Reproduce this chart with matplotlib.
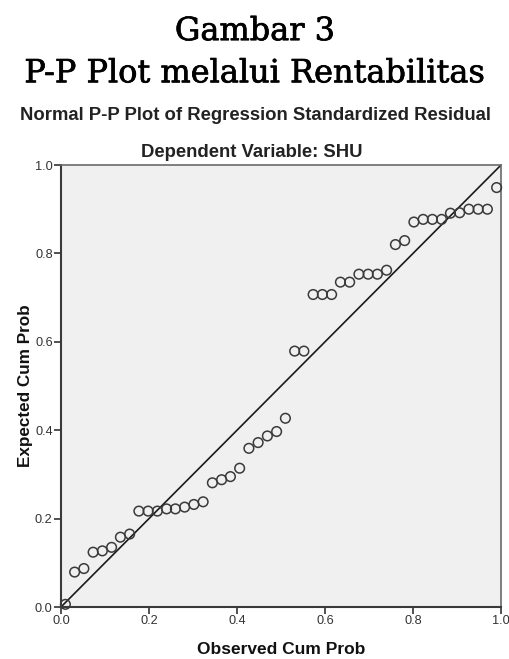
import matplotlib.pyplot as plt
import matplotlib.patheffects as pe

# Data
observed = [0.010, 0.031, 0.052, 0.073, 0.094, 0.115, 0.135, 0.156,
            0.177, 0.198, 0.219, 0.240, 0.260, 0.281, 0.302, 0.323,
            0.344, 0.365, 0.385, 0.406, 0.427, 0.448, 0.469, 0.490,
            0.510, 0.531, 0.552, 0.573, 0.594, 0.615, 0.635, 0.656,
            0.677, 0.698, 0.719, 0.740, 0.760, 0.781, 0.802, 0.823,
            0.844, 0.865, 0.885, 0.906, 0.927, 0.948, 0.969, 0.990]
expected = [0.006, 0.079, 0.087, 0.124, 0.127, 0.135, 0.158, 0.165,
            0.217, 0.217, 0.217, 0.222, 0.222, 0.226, 0.232, 0.238,
            0.281, 0.288, 0.295, 0.314, 0.359, 0.372, 0.387, 0.397,
            0.427, 0.579, 0.579, 0.707, 0.707, 0.707, 0.735, 0.735,
            0.753, 0.753, 0.753, 0.762, 0.820, 0.829, 0.871, 0.877,
            0.877, 0.877, 0.891, 0.892, 0.900, 0.900, 0.900, 0.949]
ticks = [0.0, 0.2, 0.4, 0.6, 0.8, 1.0]
tick_labels = ["0.0", "0.2", "0.4", "0.6", "0.8", "1.0"]

fig = plt.figure(figsize=(5.10, 6.59), dpi=100)
fig.patch.set_facecolor("white")

# judul agak tebal, seperti Century Schoolbook di gambar asli
tebal = [pe.withStroke(linewidth=0.5, foreground="black")]
fig.text(0.5, 0.952, "Gambar 3", ha="center", va="center",
         family="DejaVu Serif", fontsize=23, path_effects=tebal)
fig.text(0.5, 0.888, "P-P Plot melalui Rentabilitas", ha="center", va="center",
         family="DejaVu Serif", fontsize=23, path_effects=tebal)
fig.text(0.5, 0.825, "Normal P-P Plot of Regression Standardized Residual",
         ha="center", va="center", family="Liberation Sans",
         fontweight="bold", fontsize=13.3, color="#222222")
fig.text(0.494, 0.769, "Dependent Variable: SHU", ha="center", va="center",
         family="Liberation Sans", fontweight="bold", fontsize=13.3, color="#222222")

ax = fig.add_axes([0.1196, 0.0789, 0.8628, 0.6707])
ax.set_facecolor("#f0f0f0")

ax.plot([0, 1], [0, 1], color="#1a1a1a", lw=1.2, zorder=2)
ax.scatter(observed, expected, s=48, facecolors="none", edgecolors="#3a3a3a",
           linewidths=1.1, zorder=3, clip_on=False)

ax.set_xlim(0, 1)
ax.set_ylim(0, 1)
ax.set_xticks(ticks)
ax.set_xticklabels(tick_labels)
ax.set_yticks(ticks)
ax.set_yticklabels(tick_labels)
ax.tick_params(direction="out", length=5, width=1.2, colors="#333333",
               labelsize=9.2, labelcolor="#333333", pad=1)
for lab in ax.get_xticklabels() + ax.get_yticklabels():
    lab.set_family("Liberation Sans")

for side in ["left", "bottom"]:
    ax.spines[side].set_color("#3a3a3a")
    ax.spines[side].set_linewidth(1.5)
for side in ["top", "right"]:
    ax.spines[side].set_color("#6a6a6a")
    ax.spines[side].set_linewidth(1.2)

ax.set_xlabel("Observed Cum Prob", family="Liberation Sans", fontweight="bold",
              fontsize=12.5, color="#111111", va="center")
ax.set_ylabel("Expected Cum Prob", family="Liberation Sans", fontweight="bold",
              fontsize=12.3, color="#111111", va="center")
ax.xaxis.set_label_coords(0.5, -0.097)
ax.yaxis.set_label_coords(-0.08, 0.5)

fig.savefig("out.png", dpi=100)
